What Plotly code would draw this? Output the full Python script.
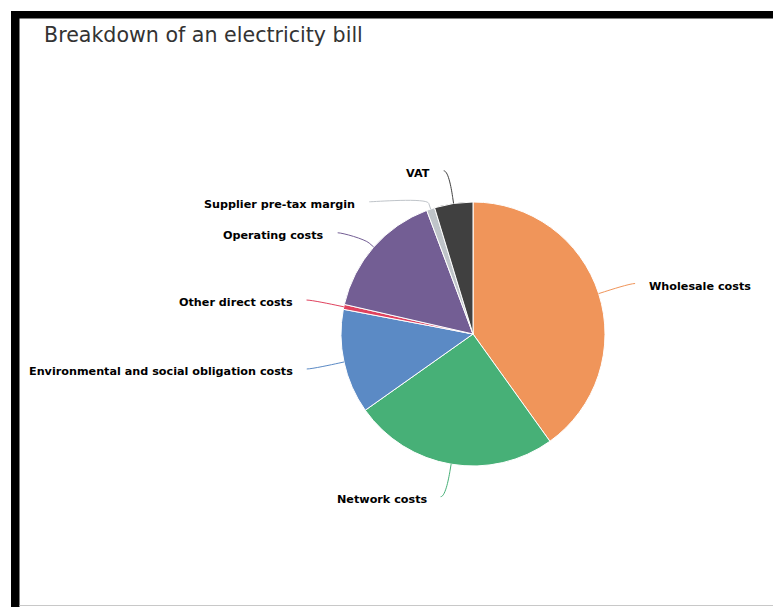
import math
import plotly.graph_objects as go

# ---- data ----
categories = [
    "Wholesale costs",
    "Network costs",
    "Environmental and social obligation costs",
    "Other direct costs",
    "Operating costs",
    "Supplier pre-tax margin",
    "VAT",
]
values = [40.1, 25.1, 12.8, 0.6, 15.7, 1.0, 4.7]
colors = ["#F0955A", "#47B077", "#5B8AC5", "#E0425E", "#735E94", "#BFC4C9", "#404040"]
title_text = "Breakdown of an electricity bill"

# ---- layout constants (pixels) ----
W, H = 773, 607
CX, CY, R = 473, 334, 132
LABEL_R = 165
PAD = 5
TEXT_GAP = 12
MIN_SPACING = 31


def P(x, y):
    return x / W, 1 - y / H


fig = go.Figure(
    go.Pie(
        labels=categories,
        values=values,
        sort=False,
        direction="clockwise",
        rotation=0,
        marker=dict(colors=colors, line=dict(color="white", width=1)),
        textinfo="none",
        hoverinfo="label+percent",
        showlegend=False,
        domain=dict(x=[(CX - R) / W, (CX + R) / W], y=[1 - (CY + R) / H, 1 - (CY - R) / H]),
    )
)

# ---- label placement (Highcharts-like) ----
total = sum(values)
items = []
cum = 0.0
for name, v, c in zip(categories, values, colors):
    mid = (cum + v / 2) / total * 2 * math.pi
    cum += v
    ux, uy = math.sin(mid), -math.cos(mid)
    side = 1 if ux >= 0 else -1
    items.append(dict(name=name, color=c, ux=ux, uy=uy, side=side, y=CY + LABEL_R * uy))

for s in (1, -1):
    group = sorted([it for it in items if it["side"] == s], key=lambda it: it["y"])
    prev = None
    for it in group:
        if prev is not None and it["y"] < prev + MIN_SPACING:
            it["y"] = prev + MIN_SPACING
        prev = it["y"]

shapes = []
annotations = []
for it in items:
    s = it["side"]
    dy = it["y"] - CY
    if abs(dy) < LABEL_R:
        xoff = math.sqrt(LABEL_R ** 2 - dy ** 2)
    else:
        xoff = abs(LABEL_R * it["ux"])
    ex, ey = CX + s * (xoff + PAD), it["y"]
    tx, ty = CX + R * it["ux"], CY + R * it["uy"]
    bx, by = CX + (R + 6) * it["ux"], CY + (R + 6) * it["uy"]
    c1x, c1y = ex - s * 5, ey
    c2x, c2y = 2 * bx - tx, 2 * by - ty
    pts = [P(ex, ey), P(c1x, c1y), P(c2x, c2y), P(bx, by), P(tx, ty)]
    path = "M {0[0]},{0[1]} C {1[0]},{1[1]} {2[0]},{2[1]} {3[0]},{3[1]} L {4[0]},{4[1]}".format(*pts)
    shapes.append(dict(type="path", xref="paper", yref="paper", path=path,
                       line=dict(color=it["color"], width=1)))
    ax, ay = P(ex + s * TEXT_GAP, ey)
    annotations.append(dict(
        x=ax, y=ay, xref="paper", yref="paper", text=it["name"], showarrow=False,
        xanchor="left" if s > 0 else "right", yanchor="middle", yshift=-2.5,
        font=dict(family="DejaVu Sans", size=11.2, color="#000000", weight="bold"),
    ))

# ---- frame ----
x0, y0 = P(11, 11)
x1, y1 = P(773, 18.5)
shapes.append(dict(type="rect", xref="paper", yref="paper", x0=x0, y0=y0, x1=x1, y1=y1,
                   fillcolor="#000000", line=dict(width=0), layer="above"))
x0, y0 = P(11, 11)
x1, y1 = P(19.5, 607)
shapes.append(dict(type="rect", xref="paper", yref="paper", x0=x0, y0=y0, x1=x1, y1=y1,
                   fillcolor="#000000", line=dict(width=0), layer="above"))
x0, y0 = P(19.5, 605.5)
x1, _ = P(773, 605.5)
shapes.append(dict(type="line", xref="paper", yref="paper", x0=x0, y0=y0, x1=x1, y1=y0,
                   line=dict(color="#C8C8C8", width=1)))

fig.update_layout(
    width=W, height=H, autosize=False,
    margin=dict(l=0, r=0, t=0, b=0),
    paper_bgcolor="white", plot_bgcolor="white",
    title=dict(text=title_text, x=44 / W, xanchor="left", y=1 - 35 / H, yanchor="middle",
               font=dict(family="DejaVu Sans", size=20.6, color="#333333")),
    shapes=shapes, annotations=annotations,
)

fig.write_html("out.html", config={"displayModeBar": False},
               post_script="document.body.style.margin='0';document.body.style.overflow='hidden';")
